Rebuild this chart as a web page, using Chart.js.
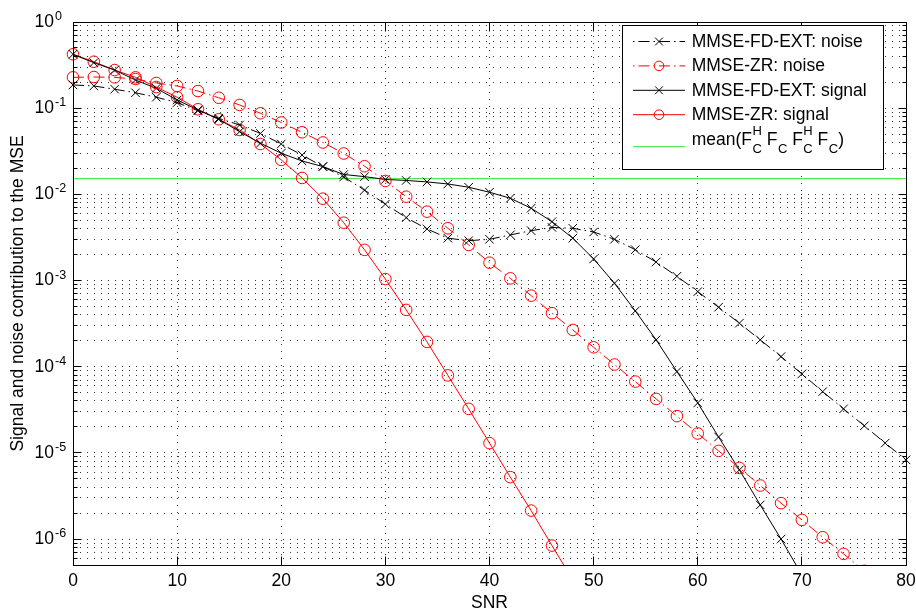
<!DOCTYPE html>
<html>
<head>
<meta charset="utf-8">
<script src="https://cdn.jsdelivr.net/npm/chart.js@4.4.0/dist/chart.umd.min.js"></script>
<style>
html,body{margin:0;padding:0;background:#fff;}
canvas{display:block;}
</style>
</head>
<body>
<canvas id="c" width="916" height="611" style="width:916px;height:611px"></canvas>
<script>
// ---------------- data ----------------
const snrDb = [0,2,4,6,8,10,12,14,16,18,20,22,24,26,28,30,32,34,36,38,40,
               42,44,46,48,50,52,54,56,58,60,62,64,66,68,70,72,74,76,78,80];

const fdExtNoise = [0.186,0.181,0.166,0.151,0.134,0.116,0.0935,0.0763,0.0638,0.0509,
  0.0384,0.0286,0.0210,0.0159,0.0112,0.0077,0.00537,0.00397,0.0031,0.0029,
  0.00301,0.00338,0.00379,0.00413,0.00404,0.00366,0.00301,0.00228,0.00164,0.00112,
  0.000743,0.00049,0.00032,0.000205,0.000131,8.25e-5,5.14e-5,3.24e-5,2.06e-5,1.3e-5,8.3e-6];

const zrNoise = [0.228,0.230,0.228,0.218,0.196,0.181,0.158,0.132,0.109,0.0873,
  0.0682,0.0525,0.0400,0.0298,0.0212,0.0143,0.0094,0.0063,0.00404,0.00259,
  0.00161,0.00106,0.000668,0.000418,0.000267,0.000168,0.000106,6.72e-5,4.23e-5,2.67e-5,
  1.68e-5,1.055e-5,6.7e-6,4.18e-6,2.61e-6,1.67e-6,1.05e-6,6.73e-7,4.28e-7];

const fdExtSignal = [0.422,0.337,0.277,0.212,0.170,0.1245,0.0953,0.0743,0.0534,0.0392,
  0.0300,0.0244,0.0210,0.0170,0.01605,0.01489,0.0145,0.01393,0.0132,0.01209,
  0.01058,0.00901,0.0069,0.00482,0.0031,0.00178,0.00093,0.000444,0.000205,8.77e-5,
  3.8e-5,1.53e-5,6.35e-6,2.49e-6,1.0e-6,3.84e-7];

const zrSignal = [0.422,0.346,0.277,0.228,0.176,0.134,0.0971,0.0743,0.0559,0.0384,
  0.0251,0.0155,0.00891,0.00469,0.00227,0.00104,0.000456,0.000194,7.93e-5,3.24e-5,
  1.3e-5,5.23e-6,2.14e-6,8.4e-7,3.36e-7];

const meanFcFc = 0.0152;

const seriesLabels = ['MMSE-FD-EXT: noise','MMSE-ZR: noise','MMSE-FD-EXT: signal','MMSE-ZR: signal','mean(F_C^H F_C F_C^H F_C)'];
const xTicks = [0,10,20,30,40,50,60,70,80];
const yTickExponents = [0,-1,-2,-3,-4,-5,-6];
const yMin = 5e-7, yMax = 1;
const xTitle = 'SNR';
const yTitle = 'Signal and noise contribution to the MSE';

// ---------------- helpers ----------------
const FONT = "'Liberation Sans', Arial, Helvetica, sans-serif";
Chart.defaults.font.family = FONT;
Chart.defaults.color = '#000';

const toPts = arr => arr.map((v, i) => ({x: snrDb[i], y: v}));
const isDecade = v => Math.abs(Math.log10(v) - Math.round(Math.log10(v))) < 1e-6;
const DASHDOT = [11, 4, 1.5, 4];
const GREEN = '#2ee62e';

function drawMarker(ctx, style, x, y, r) {
  ctx.beginPath();
  if (style === 'circle') {
    ctx.arc(x, y, r, 0, Math.PI * 2);
  } else {
    const d = r * Math.SQRT1_2;
    ctx.moveTo(x - d, y - d); ctx.lineTo(x + d, y + d);
    ctx.moveTo(x - d, y + d); ctx.lineTo(x + d, y - d);
  }
  ctx.stroke();
}

const matlabFrame = {
  id: 'matlabFrame',
  afterDatasetsDraw(chart) {
    const ctx = chart.ctx;
    const {left, right, top, bottom} = chart.chartArea;
    const xs = chart.scales.x, ys = chart.scales.y;
    const al = p => Math.round(p - 0.5) + 0.5;
    ctx.save();
    ctx.setLineDash([]);
    ctx.strokeStyle = '#000';
    ctx.lineWidth = 1;
    // box
    const L = al(left), R = al(right), T = al(top), B = al(bottom);
    ctx.beginPath();
    ctx.moveTo(L, T); ctx.lineTo(R, T); ctx.lineTo(R, B); ctx.lineTo(L, B); ctx.closePath();
    ctx.stroke();
    // y ticks (inward, both sides)
    ctx.beginPath();
    ys.ticks.forEach(t => {
      const py = al(ys.getPixelForValue(t.value));
      if (py < top - 1 || py > bottom + 1) return;
      const len = isDecade(t.value) ? 8 : 4;
      ctx.moveTo(L, py); ctx.lineTo(L + len, py);
      ctx.moveTo(R, py); ctx.lineTo(R - len, py);
    });
    // x ticks (inward, top and bottom)
    xTicks.forEach(v => {
      const px = al(xs.getPixelForValue(v));
      ctx.moveTo(px, B); ctx.lineTo(px, B - 9);
      ctx.moveTo(px, T); ctx.lineTo(px, T + 9);
    });
    ctx.stroke();

    // exponents of y tick labels
    ctx.fillStyle = '#000';
    ctx.font = '12.5px ' + FONT;
    ctx.textAlign = 'left';
    ctx.textBaseline = 'alphabetic';
    yTickExponents.forEach(e => {
      const py = ys.getPixelForValue(Math.pow(10, e));
      ctx.fillText(String(e), ys.right - 18, py - 2);
    });

    // legend
    const bx0 = 622.5, by0 = 25.5, bx1 = 883.5, by1 = 169.5;
    ctx.fillStyle = '#fff';
    ctx.fillRect(bx0, by0, bx1 - bx0, by1 - by0);
    ctx.strokeStyle = '#000';
    ctx.strokeRect(bx0, by0, bx1 - bx0, by1 - by0);
    const rowsY = [41.5, 65.9, 90.3, 114.7, 146.7];
    const lx0 = 633, lx1 = 685, mx = 659, tx = 691.7;
    chart.data.datasets.forEach((ds, i) => {
      const y = rowsY[i];
      ctx.strokeStyle = ds.borderColor;
      ctx.lineWidth = 1;
      ctx.setLineDash(ds.borderDash || []);
      ctx.lineDashOffset = (ds.borderDash && ds.borderDash.length) ? 15 : 0;
      ctx.beginPath(); ctx.moveTo(lx0, y); ctx.lineTo(lx1, y); ctx.stroke();
      ctx.setLineDash([]);
      if (ds.pointRadius > 0) drawMarker(ctx, ds.pointStyle, mx, y, ds.pointStyle === 'circle' ? 4.8 : 5.5);
      ctx.fillStyle = '#000';
      ctx.font = '17.5px ' + FONT;
      if (i < 4) {
        ctx.fillText(ds.label, tx, y + 5.2);
      } else {
        // mean(F_C^H F_C F_C^H F_C) with sub/superscripts
        const base = 145;
        const parts = [
          {t: 'mean(F'}, {sup: 'H', sub: 'C'},
          {t: ' F'}, {sub: 'C'},
          {t: ' F'}, {sup: 'H', sub: 'C'},
          {t: ' F'}, {sub: 'C'},
          {t: ')'}
        ];
        let x = tx;
        parts.forEach(p => {
          if (p.t) {
            ctx.font = '17.5px ' + FONT;
            ctx.fillText(p.t, x, base);
            x += ctx.measureText(p.t).width;
          } else {
            ctx.font = '13px ' + FONT;
            let w = 0;
            if (p.sup) { ctx.fillText(p.sup, x + 0.5, base - 10); w = Math.max(w, ctx.measureText(p.sup).width); }
            if (p.sub) { ctx.fillText(p.sub, x + 0.5, base + 8); w = Math.max(w, ctx.measureText(p.sub).width); }
            x += w + 0.5;
          }
        });
      }
    });
    ctx.restore();
  }
};

const commonLine = {borderWidth: 1, tension: 0, pointBorderWidth: 1,
  pointBackgroundColor: 'rgba(0,0,0,0)', pointHoverRadius: 0,
  clip: {left: 8, top: 8, right: 8, bottom: 0}};

new Chart(document.getElementById('c'), {
  type: 'line',
  data: {
    datasets: [
      Object.assign({}, commonLine, {label: seriesLabels[0], data: toPts(fdExtNoise),
        borderColor: '#000', borderDash: DASHDOT, pointStyle: 'crossRot', pointRadius: 6, pointBorderColor: '#000'}),
      Object.assign({}, commonLine, {label: seriesLabels[1], data: toPts(zrNoise),
        borderColor: '#ff0000', borderDash: DASHDOT, pointStyle: 'circle', pointRadius: 5.8, pointBorderColor: '#ff0000'}),
      Object.assign({}, commonLine, {label: seriesLabels[2], data: toPts(fdExtSignal),
        borderColor: '#000', borderDash: [], pointStyle: 'crossRot', pointRadius: 6, pointBorderColor: '#000'}),
      Object.assign({}, commonLine, {label: seriesLabels[3], data: toPts(zrSignal),
        borderColor: '#ff0000', borderDash: [], pointStyle: 'circle', pointRadius: 5.8, pointBorderColor: '#ff0000'}),
      Object.assign({}, commonLine, {label: seriesLabels[4],
        data: [{x: xTicks[0], y: meanFcFc}, {x: xTicks[xTicks.length - 1], y: meanFcFc}],
        borderColor: GREEN, borderDash: [], pointRadius: 0, pointStyle: 'line'})
    ]
  },
  options: {
    responsive: false,
    animation: false,
    devicePixelRatio: 1,
    events: [],
    layout: {padding: {left: 0, right: 10, top: 22, bottom: 0}},
    plugins: {legend: {display: false}, tooltip: {enabled: false}},
    scales: {
      x: {
        type: 'linear', min: xTicks[0], max: xTicks[xTicks.length - 1],
        afterBuildTicks: s => { s.ticks = xTicks.map(v => ({value: v})); },
        afterFit: s => { s.height = 46; s.paddingLeft = 0; s.paddingRight = 0; },
        ticks: {autoSkip: false, maxRotation: 0, padding: 6, color: '#000', font: {size: 17.5}},
        grid: {color: 'rgba(0,0,0,0.8)', lineWidth: 1, drawTicks: false},
        border: {display: false, dash: [1, 6]},
        title: {display: true, text: xTitle, color: '#000', font: {size: 17.5}, padding: {top: 0, bottom: -2.5}}
      },
      y: {
        type: 'logarithmic', min: yMin, max: yMax,
        afterBuildTicks: s => {
          const t = [];
          for (let e = -7; e <= 0; e++) {
            for (let m = 1; m <= 9; m++) {
              const v = m * Math.pow(10, e);
              if (v >= yMin * 0.9999 && v <= yMax * 1.0001) t.push({value: v});
            }
          }
          s.ticks = t;
        },
        afterFit: s => { s.width = 73; s.paddingTop = 0; s.paddingBottom = 0; },
        ticks: {
          autoSkip: false, padding: 19, color: '#000', font: {size: 17.5},
          callback: v => (isDecade(v) && yTickExponents.includes(Math.round(Math.log10(v)))) ? '10' : ''
        },
        grid: {color: 'rgba(0,0,0,0.8)', lineWidth: 1, drawTicks: false},
        border: {display: false, dash: [1, 6]},
        title: {display: true, text: yTitle, color: '#000', font: {size: 17.5}, padding: {top: 8, bottom: 0}}
      }
    }
  },
  plugins: [matlabFrame]
});
</script>
</body>
</html>
